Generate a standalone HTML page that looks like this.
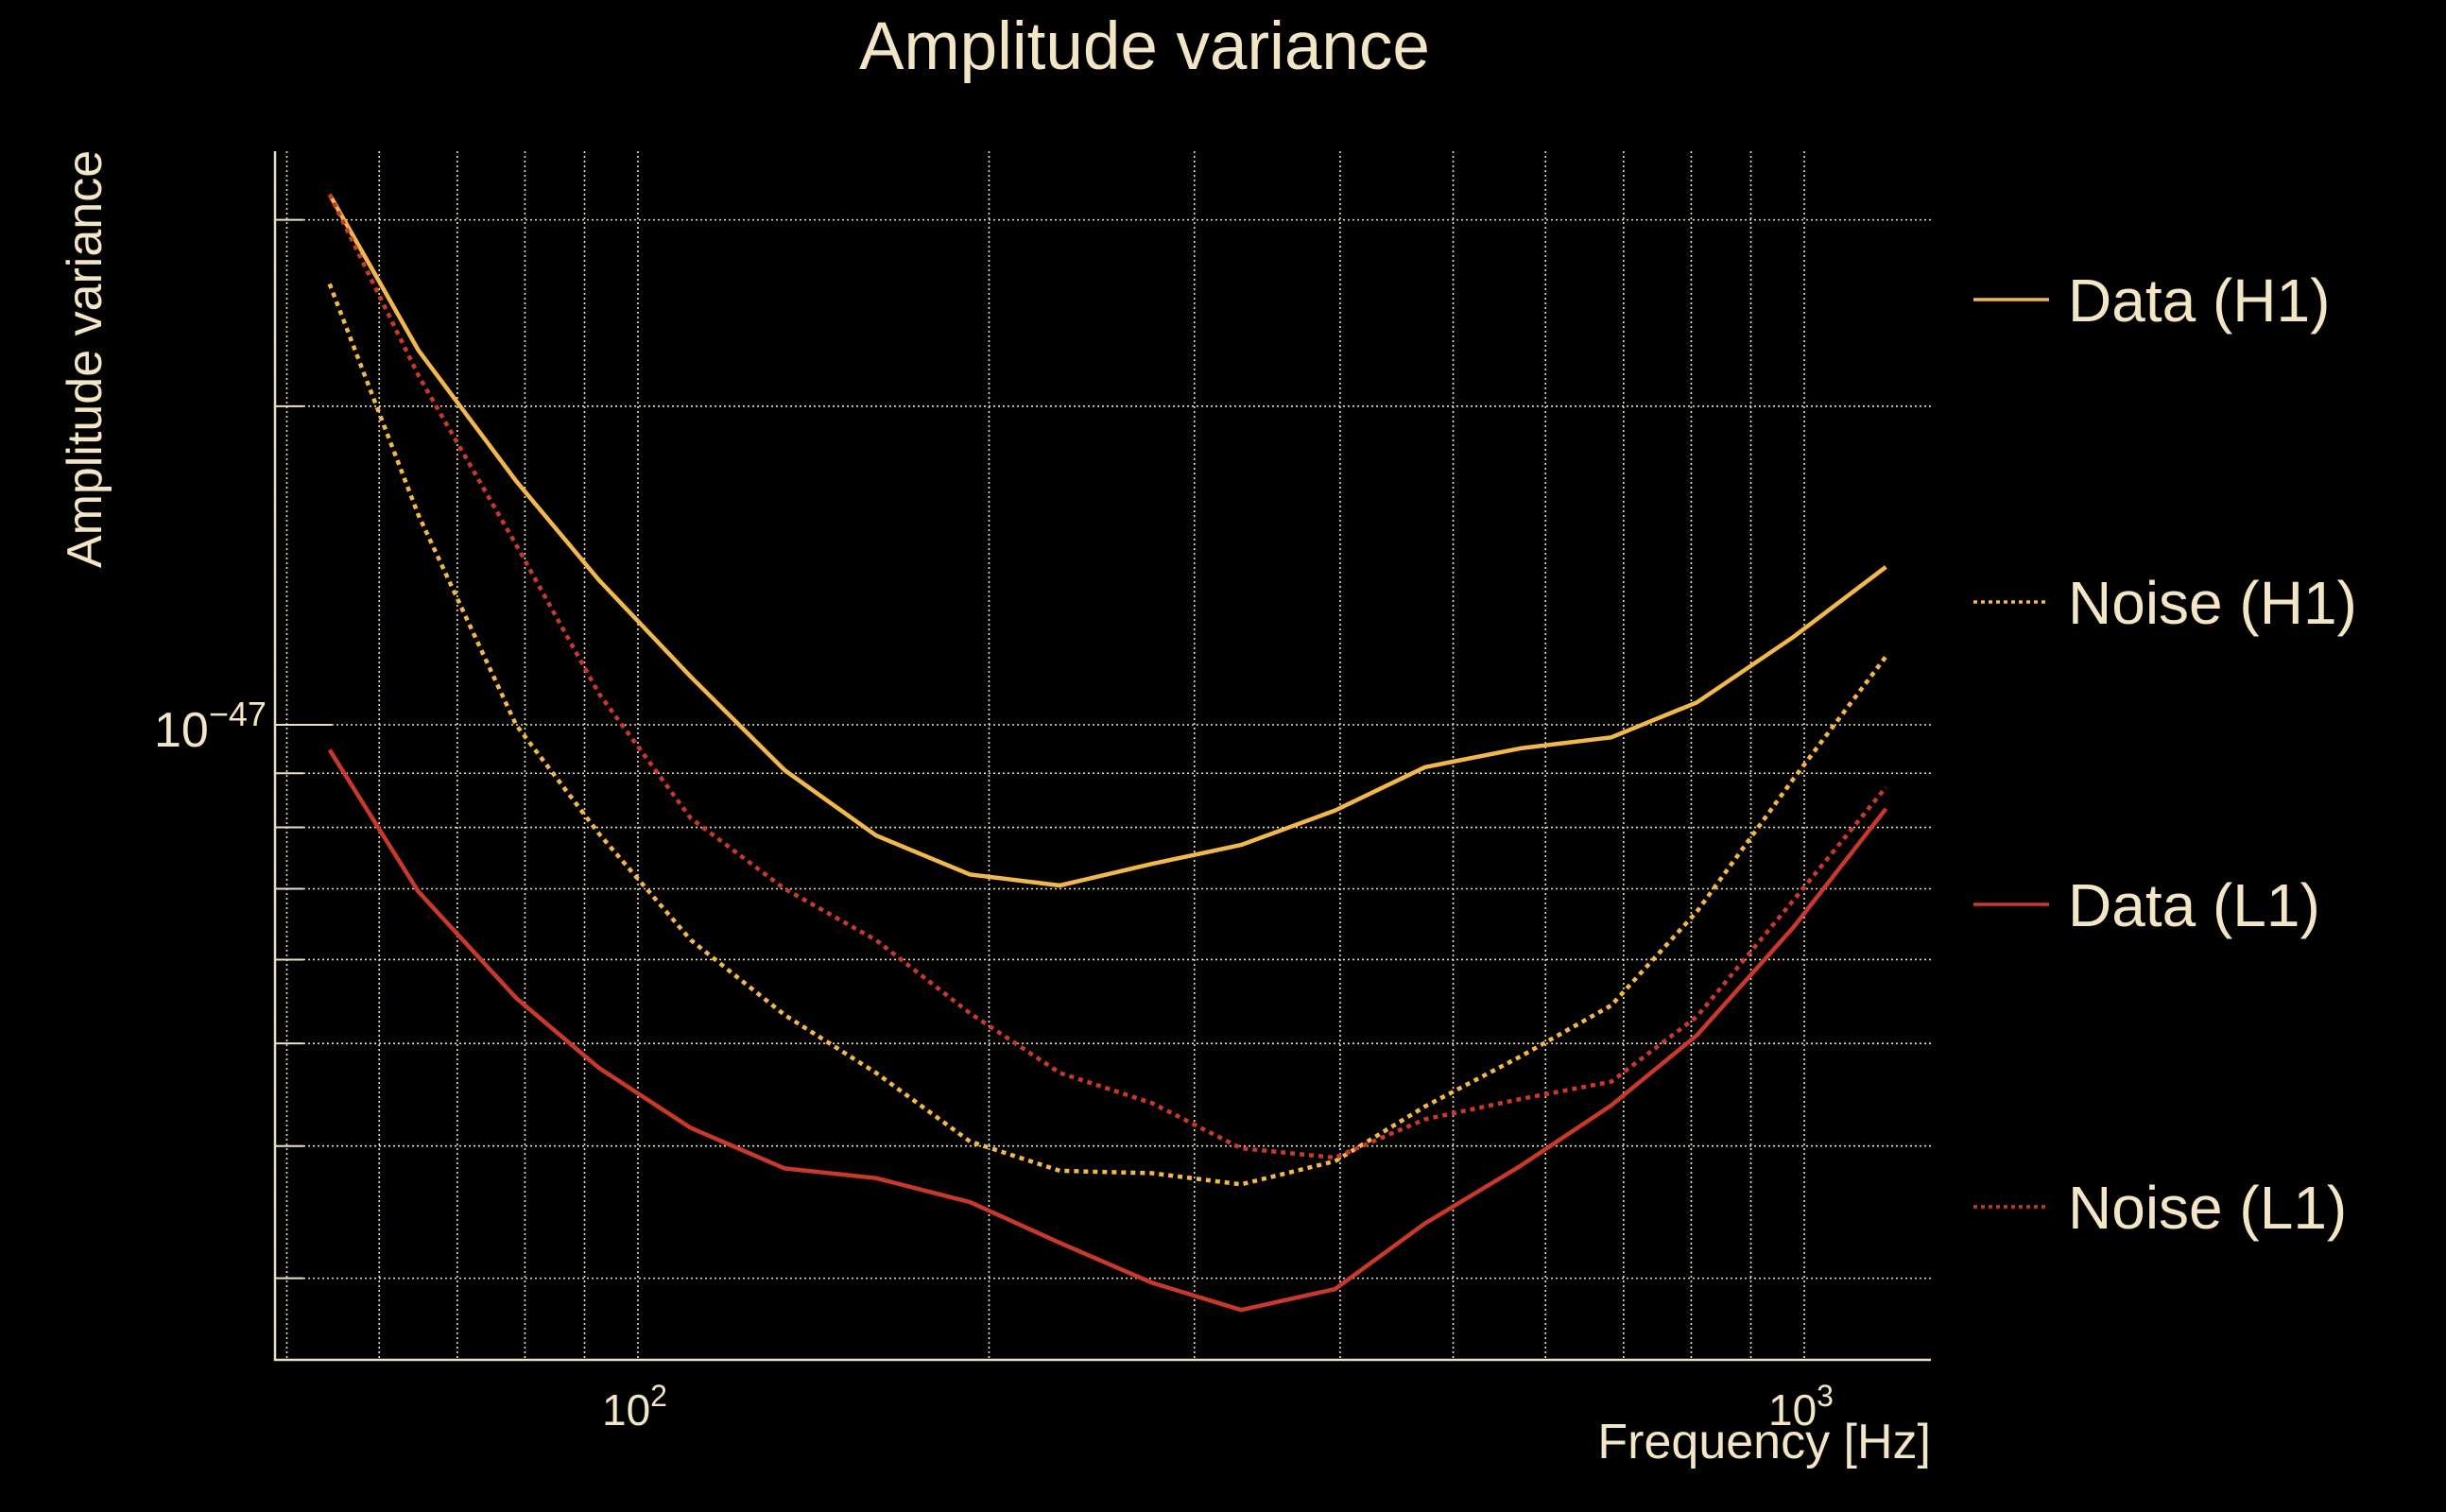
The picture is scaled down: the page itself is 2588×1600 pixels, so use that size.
<!DOCTYPE html>
<html><head><meta charset="utf-8">
<style>
html,body{margin:0;padding:0;background:#000;}
svg{display:block;}
text{font-family:"Liberation Sans",sans-serif;fill:#f3e6c6;}
</style></head>
<body>
<svg id="chart" width="2588" height="1600" viewBox="0 0 2588 1600" xmlns="http://www.w3.org/2000/svg">
<rect width="2588" height="1600" fill="#000"/>
<text x="1211" y="73" font-size="71" text-anchor="middle">Amplitude variance</text>
<text transform="translate(107,380) rotate(-90)" font-size="52" text-anchor="middle">Amplitude variance</text>
<text x="2043" y="1543" font-size="52" text-anchor="end">Frequency [Hz]</text>
<g id="grid"></g>
<g id="series"></g>
<g id="legend"></g>
</svg>
<script>
// frequencies (Hz)
const freqs = [54.4, 64.8, 78.6, 92.6, 111, 133.6, 160, 192.6, 230, 276, 329, 396, 473, 571, 683, 809, 978, 1175];
// values in units of 1e-48
const dataH1 = [31.7, 22.6, 17.0, 13.7, 11.1, 9.06, 7.86, 7.22, 7.05, 7.39, 7.70, 8.30, 9.12, 9.50, 9.73, 10.5, 12.1, 14.1];
const noiseH1 = [26.1, 15.8, 10.0, 7.89, 6.26, 5.32, 4.69, 4.04, 3.79, 3.77, 3.68, 3.87, 4.36, 4.86, 5.43, 6.66, 8.88, 11.6];
const dataL1 = [9.47, 6.96, 5.52, 4.74, 4.16, 3.81, 3.73, 3.54, 3.24, 2.97, 2.80, 2.93, 3.38, 3.83, 4.37, 5.09, 6.43, 8.33];
const noiseL1 = [31.7, 21.4, 14.8, 10.7, 8.16, 7.00, 6.26, 5.34, 4.69, 4.39, 3.98, 3.90, 4.24, 4.43, 4.60, 5.30, 6.82, 8.73];
const xGrid = [50, 60, 70, 80, 90, 100, 200, 300, 400, 500, 600, 700, 800, 900, 1000];
const yGrid = [3, 4, 5, 6, 7, 8, 9, 10, 20, 30];
const xTickLabels = [[100, "2"], [1000, "3"]];

const NS = "http://www.w3.org/2000/svg";
const L = 291, R = 2043, T = 160, B = 1439;
function X(f){ return 675 + (Math.log10(f) - 2) * 1234; }
function Y(v){ return 767 - Math.log10(v / 10) * 1120; }
function mk(tag, attrs, parent){ const e = document.createElementNS(NS, tag); for (const k in attrs) e.setAttribute(k, attrs[k]); parent.appendChild(e); return e; }

const grid = document.getElementById('grid');
const gc = "#e9dfc2";
xGrid.forEach(f => {
  const x = X(f);
  const l = mk('line', {x1:x, x2:x, y1:T, y2:B, stroke:gc, 'stroke-width':1.6, 'stroke-dasharray':'2 3'}, grid);
  
  
});
yGrid.forEach(v => {
  const y = Y(v);
  const l = mk('line', {x1:L, x2:R, y1:y, y2:y, stroke:gc, 'stroke-width':1.6, 'stroke-dasharray':'2 3'}, grid);
  
  
  const t = mk('line', {x1:L, x2:L + (v === 10 ? 60 : 30), y1:y, y2:y, stroke:gc, 'stroke-width':2}, grid);
  
  
});
const ax = mk('path', {d:`M${L},${T} V${B} H${R}`, fill:'none', stroke:gc, 'stroke-width':2.5}, grid);



const yl = mk('text', {x:163, y:790, 'font-size':52}, grid);


yl.textContent = "10";
const ys = mk('tspan', {dy:-22, 'font-size':36}, yl);
ys.textContent = "\u221247";

xTickLabels.forEach(([f, e]) => {
  const t = mk('text', {x:X(f) - 38, y:1508, 'font-size':46}, grid);
  
  
  t.textContent = "10";
  const s = mk('tspan', {dy:-20, 'font-size':32}, t);
  s.textContent = e;
});

const yellow = "#f2b84b", red = "#c8392b";
const seriesDefs = [
  {name:'data-h1-line', label:'Data (H1)', vals:dataH1, color:yellow, dash:null},
  {name:'noise-h1-line', label:'Noise (H1)', vals:noiseH1, color:yellow, dash:'5 5'},
  {name:'data-l1-line', label:'Data (L1)', vals:dataL1, color:red, dash:null},
  {name:'noise-l1-line', label:'Noise (L1)', vals:noiseL1, color:red, dash:'5 5'}
];
const sg = document.getElementById('series');
const lg = document.getElementById('legend');
seriesDefs.forEach((s, i) => {
  const pts = s.vals.map((v, j) => X(freqs[j]).toFixed(1) + ',' + Y(v).toFixed(1)).join(' ');
  const p = mk('polyline', {points:pts, fill:'none', stroke:s.color, 'stroke-width':4.5, 'stroke-linejoin':'round'}, sg);
  if (s.dash) p.setAttribute('stroke-dasharray', s.dash);
  
  
  const ly = 317 + i * 320;
  const g = mk('g', {}, lg);
  
  
  const ll = mk('line', {x1:2088, x2:2168, y1:ly, y2:ly, stroke:s.color, 'stroke-width':3.5}, g);
  if (s.dash) ll.setAttribute('stroke-dasharray', '4 4');
  
  
  const t = mk('text', {x:2188, y:ly + 23, 'font-size':64}, g);
  
  
  t.textContent = s.label;
});
</script>
</body></html>
